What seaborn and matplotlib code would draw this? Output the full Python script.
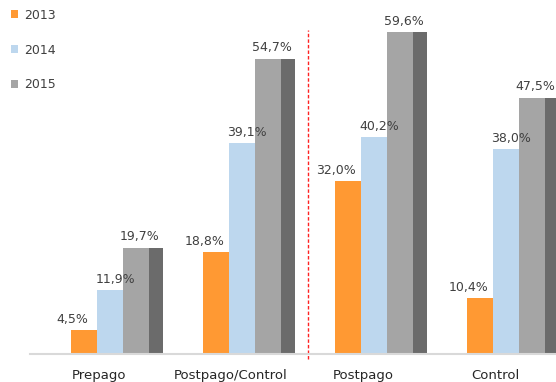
import numpy as np
import pandas as pd
import matplotlib
matplotlib.use("Agg")
import matplotlib.pyplot as plt
import matplotlib.transforms as mtransforms
import seaborn as sns

# Datos
categorias = ["Prepago", "Postpago/Control", "Postpago", "Control"]
anios = ["2013", "2014", "2015"]
valores_2013 = [4.5, 18.8, 32.0, 10.4]
valores_2014 = [11.9, 39.1, 40.2, 38.0]
valores_2015 = [19.7, 54.7, 59.6, 47.5]

colores = ["#FF9933", "#BDD7EE", "#A5A5A5"]
color_lado = "#6B6B6B"
color_texto = "#404040"

df = pd.DataFrame({
    "categoria": categorias * 3,
    "anio": [a for a in anios for _ in categorias],
    "valor": valores_2013 + valores_2014 + valores_2015,
})

sns.set_style("white")
plt.rcParams["font.family"] = ["DejaVu Sans"]

fig = plt.figure(figsize=(5.56, 3.82), dpi=100)
ax = fig.add_axes([30 / 556, 1 - 354 / 382, 526 / 556, 351 / 382])

px = 132.0  # pixeles por categoria
sns.barplot(data=df, x="categoria", y="valor", hue="anio", order=categorias,
            hue_order=anios, palette=colores, width=3 * 25.7 / px, gap=0,
            saturation=1, edgecolor="none", linewidth=0, ax=ax, legend=True)

# lado oscuro de las barras 2015 (efecto profundidad)
cont_2015 = ax.containers[2]
for p in cont_2015.patches:
    ax.bar(p.get_x() + p.get_width(), p.get_height(), width=14 / px,
           align="edge", color=color_lado, linewidth=0)

# etiquetas de valor
desplaz = {0: -12, 1: 5, 2: 4}
for i, cont in enumerate(ax.containers[:3]):
    for p in cont.patches:
        h = p.get_height()
        ax.annotate(f"{h:.1f}%".replace(".", ","),
                    (p.get_x() + p.get_width() / 2, h),
                    xytext=(desplaz[i] * 0.72, 3), textcoords="offset points",
                    ha="center", va="bottom", fontsize=9, color=color_texto)

ax.set_xlim((30 - 110) / px, (556 - 110) / px)
ax.set_ylim(0, 65)

# línea roja discontinua entre grupos
ax.axvline(1.5, ymin=-0.015, ymax=(354 - 30) / 351, color="#FF2222",
           linestyle=(0, (2.5, 1.5)), linewidth=1, clip_on=False)

for s in ["top", "right", "left"]:
    ax.spines[s].set_visible(False)
ax.spines["bottom"].set_color("#D9D9D9")
ax.spines["bottom"].set_linewidth(1.5)
ax.set_yticks([])
ax.set_xlabel("")
ax.set_ylabel("")
ax.tick_params(axis="x", length=0, pad=11, labelsize=9.5, labelcolor="#262626")
desp = mtransforms.ScaledTranslation(-11 / 100, 0, fig.dpi_scale_trans)
for lab in ax.get_xticklabels():
    lab.set_transform(lab.get_transform() + desp)

handles, labels = ax.get_legend_handles_labels()
ax.legend(handles[:3], labels[:3], loc="upper left",
          bbox_to_anchor=(7 / 556, 1 - 5 / 382), bbox_transform=fig.transFigure,
          frameon=False, handlelength=0.6, handleheight=0.6, handletextpad=0.5,
          labelspacing=1.75, fontsize=9, labelcolor=color_texto,
          borderaxespad=0, borderpad=0.3)

fig.savefig("out.png", dpi=100)
